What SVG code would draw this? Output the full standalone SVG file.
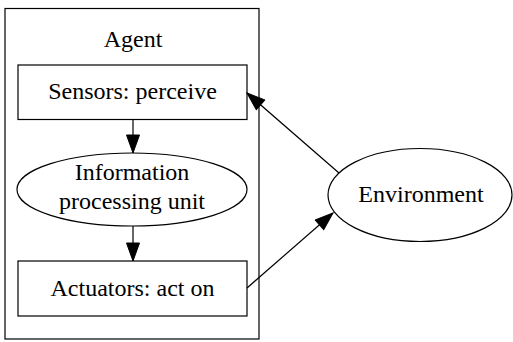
<svg xmlns="http://www.w3.org/2000/svg" width="513" height="342" viewBox="0 0 513 342">
  <style>
    .shape { fill: none; stroke: #000; stroke-width: 1.2; }
    .cluster { fill: none; stroke: #000; stroke-width: 1.2; }
    .edge { fill: none; stroke: #000; stroke-width: 1.2; marker-end: url(#arrow); }
    text { font-family: "Liberation Serif", "Times New Roman", serif; font-size: 24px; fill: #000; text-anchor: middle; }
  </style>
  <defs>
    <marker id="arrow" markerUnits="userSpaceOnUse" markerWidth="20" markerHeight="14" refX="19" refY="7" orient="auto">
      <path d="M1,0.5 L19,7 L1,13.5 Z" fill="#000" stroke="#000" stroke-width="1"/>
    </marker>
  </defs>
  <rect fill="#fff" x="0" y="0" width="513" height="342"/>

  <!-- Agent cluster -->
  <g id="cluster_agent">
    <rect class="cluster" x="5" y="8.5" width="254" height="330.5"/>
    <text x="133" y="47">Agent</text>
  </g>

  <g id="sensors">
    <rect class="shape" x="18" y="65" width="229" height="54.5"/>
    <text x="132.5" y="99">Sensors: perceive</text>
  </g>

  <g id="processing">
    <ellipse class="shape" cx="132" cy="189.5" rx="115" ry="36.5"/>
    <text x="132" y="179.5">Information</text>
    <text x="132" y="208.5">processing unit</text>
  </g>

  <g id="actuators">
    <rect class="shape" x="18" y="261" width="229" height="55"/>
    <text x="132.5" y="295.5">Actuators: act on</text>
  </g>

  <g id="environment">
    <ellipse class="shape" cx="420" cy="195" rx="92" ry="46.5"/>
    <text x="421" y="202">Environment</text>
  </g>

  <!-- connectors -->
  <g id="edges">
    <path class="edge" d="M133,119.5 L133,153"/>
    <path class="edge" d="M133,226 L133,261"/>
    <path class="edge" d="M339,173 L247,93"/>
    <path class="edge" d="M247,288 L333,213"/>
  </g>
</svg>
